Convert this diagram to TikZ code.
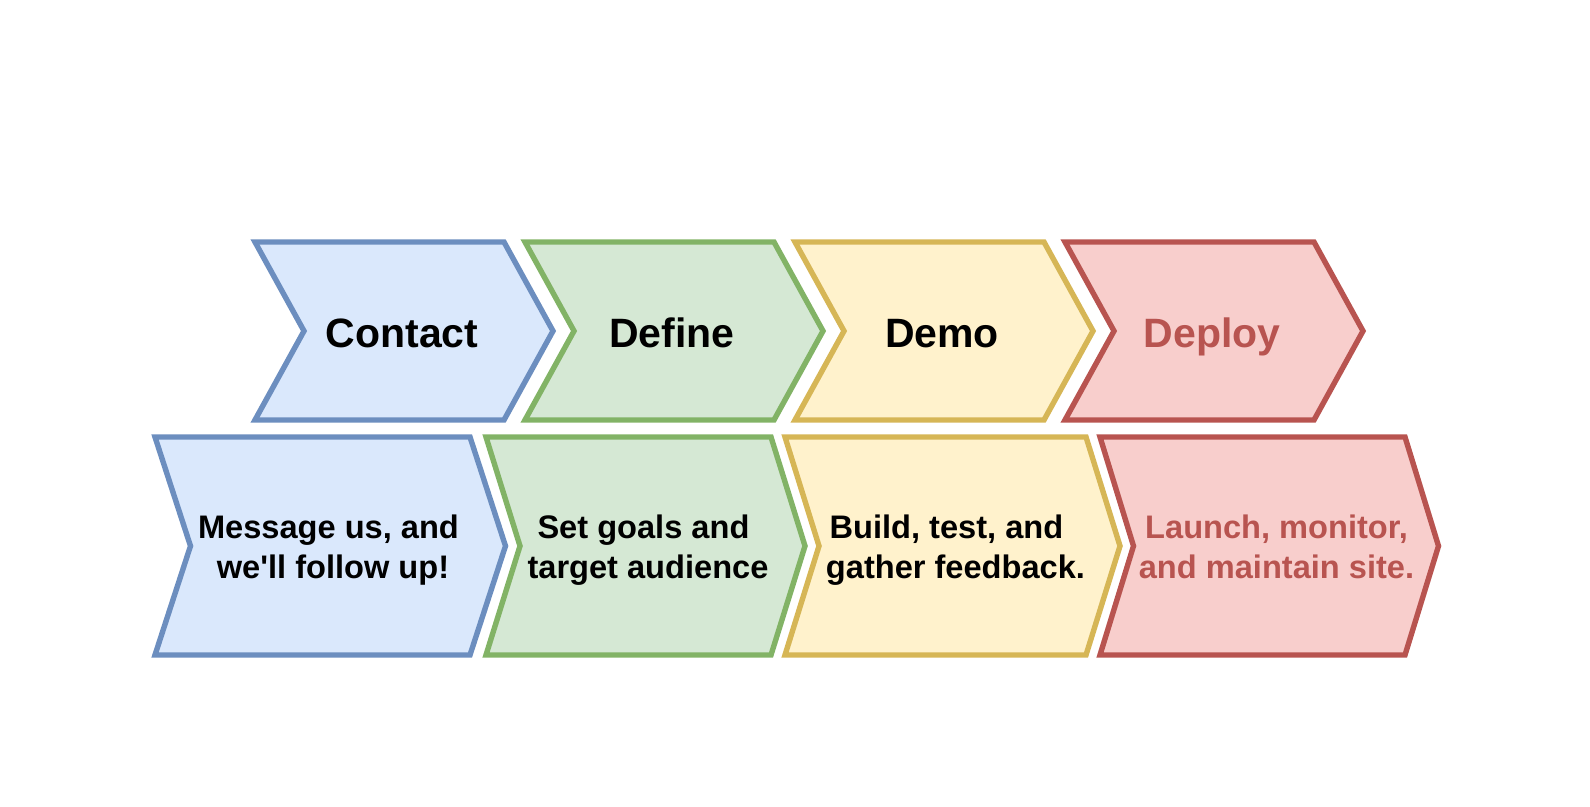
\documentclass[tikz,border=0pt]{standalone}
\usepackage{fontspec}
\setmainfont{Liberation Sans}
\usepackage{xcolor}
\usepackage{tikz}
\usetikzlibrary{calc}
\definecolor{StepBlueFill}{HTML}{DAE8FC}
\definecolor{StepBlueLine}{HTML}{6C8EBF}
\definecolor{StepGreenFill}{HTML}{D5E8D4}
\definecolor{StepGreenLine}{HTML}{82B366}
\definecolor{StepAmberFill}{HTML}{FFF2CC}
\definecolor{StepAmberLine}{HTML}{D6B656}
\definecolor{StepRedFill}{HTML}{F8CECC}
\definecolor{StepRedLine}{HTML}{B85450}
\tikzset{
  stepshape/.style={line width=2.7pt, line join=miter},
  blueshape/.style={stepshape, fill=StepBlueFill, draw=StepBlueLine},
  greenshape/.style={stepshape, fill=StepGreenFill, draw=StepGreenLine},
  ambershape/.style={stepshape, fill=StepAmberFill, draw=StepAmberLine},
  redshape/.style={stepshape, fill=StepRedFill, draw=StepRedLine},
  steptitle/.style={font=\bfseries\fontsize{20.5pt}{24pt}\selectfont, anchor=base, inner sep=0pt},
  stepnote/.style={font=\bfseries\fontsize{16.3pt}{20pt}\selectfont, align=center, anchor=base, inner sep=0pt}
}
% chevron: style, left, right, top, bottom, depth
\newcommand{\stepchevron}[6]{%
  \draw[#1] (#2,#4) -- (#3,#4) -- ({#3+#6},{(#4+#5)/2}) -- (#3,#5) -- (#2,#5)
    -- ({#2+#6},{(#4+#5)/2}) -- cycle;}

\begin{document}
\begin{tikzpicture}[x=0.5pt, y=-0.5pt]
\useasboundingbox (0,0) rectangle (1590,807);

% top row
\stepchevron{blueshape}{255}{504}{242}{420}{49}
\stepchevron{greenshape}{525}{774}{242}{420}{49}
\stepchevron{ambershape}{795}{1044}{242}{420}{49}
\stepchevron{redshape}{1065}{1314}{242}{420}{49}

\node[steptitle] (contact) at (402,348) {Contact};
\node[steptitle] (define) at (672,348) {Define};
\node[steptitle] (demo) at (942,348) {Demo};
\node[steptitle, text=StepRedLine] (deploy) at (1212,348) {Deploy};

% bottom row (base = last line)
\stepchevron{blueshape}{155}{470}{437}{655}{35.5}
\stepchevron{greenshape}{486}{771}{437}{655}{34}
\stepchevron{ambershape}{785}{1086}{437}{655}{34}
\stepchevron{redshape}{1100}{1405}{437}{655}{33.5}

\node[stepnote] (contactnote) at (333,578) {Message us, and\kern.278em\\we\textquotesingle ll follow up!};
\node[stepnote] (definenote) at (648,578) {Set goals and\kern.278em\\target audience};
\node[stepnote] (demonote) at (955.5,578) {Build, test, and\kern.556em\\gather feedback.};
\node[stepnote, text=StepRedLine] (deploynote) at (1276.5,578) {Launch, monitor,\\and maintain site.};
\end{tikzpicture}
\end{document}
